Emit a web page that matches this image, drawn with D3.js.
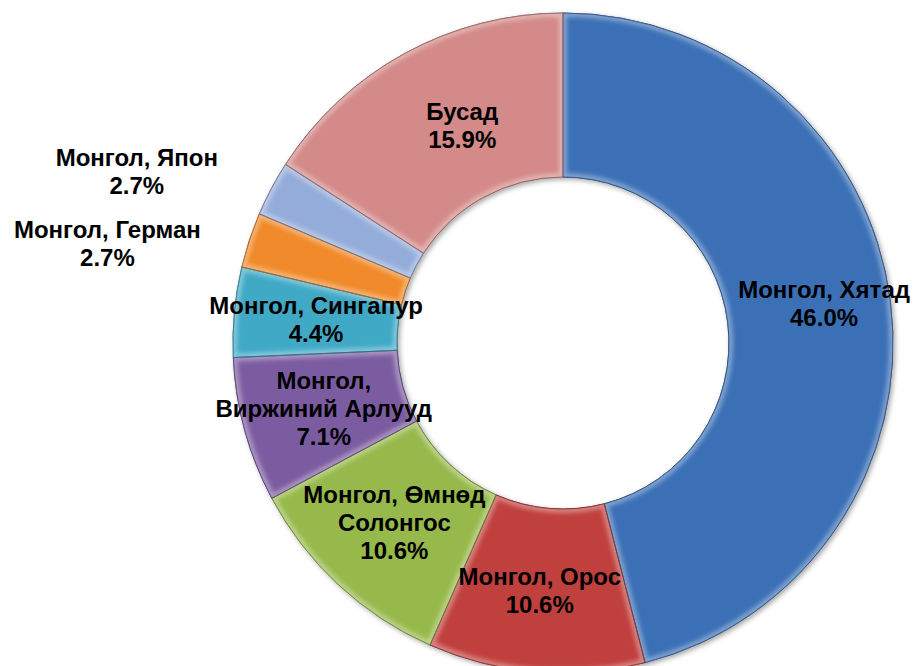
<!DOCTYPE html>
<html>
<head>
<meta charset="utf-8">
<script src="https://cdn.jsdelivr.net/npm/d3@7"></script>
<style>
  body { margin: 0; background: #fff; }
  #chart { width: 915px; height: 666px; overflow: hidden; }
  text { font-family: "Liberation Sans", Arial, sans-serif; font-weight: bold; }
</style>
</head>
<body>
<div id="chart"></div>
<script>
// ---- data ----
const labels = ["Монгол, Хятад", "Монгол, Орос", "Монгол, Өмнөд Солонгос", "Монгол, Виржиний Арлууд",
                "Монгол, Сингапур", "Монгол, Герман", "Монгол, Япон", "Бусад"];
const values = [46.0, 10.6, 10.6, 7.1, 4.4, 2.7, 2.7, 15.9];
// how each label is broken into lines
const labelLines = [
  ["Монгол, Хятад"], ["Монгол, Орос"], ["Монгол, Өмнөд", "Солонгос"], ["Монгол,", "Виржиний Арлууд"],
  ["Монгол, Сингапур"], ["Монгол, Герман"], ["Монгол, Япон"], ["Бусад"]
];
const colors = ["#3b6fb6", "#c0403d", "#97b94b", "#7b5ba1", "#3fa9c6", "#f08a2c", "#94acd9", "#d38a88"];
// manual nudges of the labels away from the arc centroid (dragged in the original)
const labelNudge = [[15, -8], [-3, 0], [0, -2], [0, 0], [0, 0], [-220, -22], [-207, -55], [18, 0]];

const width = 915, height = 666;
const cx = 563, cy = 343;
const outerR = 330, innerR = 166;

const svg = d3.create("svg")
  .attr("width", width)
  .attr("height", height);

const defs = svg.append("defs");
const shadow = defs.append("filter").attr("id", "shadow")
  .attr("x", "-10%").attr("y", "-10%").attr("width", "120%").attr("height", "120%");
shadow.append("feDropShadow")
  .attr("dx", 2).attr("dy", 2).attr("stdDeviation", 2.5)
  .attr("flood-color", "#000").attr("flood-opacity", 0.35);
const blur = defs.append("filter").attr("id", "soft");
blur.append("feGaussianBlur").attr("stdDeviation", 2);

const pie = d3.pie().sort(null).value(d => d.value);
const arc = d3.arc().innerRadius(innerR).outerRadius(outerR);

const data = labels.map((l, i) => ({label: l, value: values[i], i: i}));
const arcs = pie(data);

const g = svg.append("g").attr("transform", `translate(${cx},${cy})`);

// slices
const slices = g.append("g").attr("filter", "url(#shadow)");
slices.selectAll("path")
  .data(arcs)
  .join("path")
  .attr("d", arc)
  .attr("fill", d => colors[d.data.i])
  .attr("stroke", d => d3.color(colors[d.data.i]).darker(0.8))
  .attr("stroke-width", 1);

// bevel: light inner rim clipped to each slice
arcs.forEach(d => {
  defs.append("clipPath").attr("id", "clip" + d.data.i)
    .append("path").attr("d", arc(d));
});
g.append("g").selectAll("path")
  .data(arcs)
  .join("path")
  .attr("d", arc)
  .attr("clip-path", d => `url(#clip${d.data.i})`)
  .attr("fill", "none")
  .attr("stroke", "#fff")
  .attr("stroke-opacity", 0.35)
  .attr("stroke-width", 8)
  .attr("filter", "url(#soft)");
// darker outline on top
g.append("g").selectAll("path")
  .data(arcs)
  .join("path")
  .attr("d", arc)
  .attr("fill", "none")
  .attr("stroke", d => d3.color(colors[d.data.i]).darker(1))
  .attr("stroke-opacity", 0.7)
  .attr("stroke-width", 1);

// labels
const lineH = 28;
const lab = g.append("g").selectAll("text")
  .data(arcs)
  .join("text")
  .attr("text-anchor", "middle")
  .attr("font-size", 24)
  .attr("fill", "#000")
  .attr("transform", d => {
    const c = arc.centroid(d);
    const n = labelNudge[d.data.i];
    return `translate(${c[0] + n[0]},${c[1] + n[1]})`;
  });

lab.each(function(d) {
  const lines = labelLines[d.data.i].concat([d.data.value.toFixed(1) + "%"]);
  const t = d3.select(this);
  const y0 = -(lines.length - 1) * lineH / 2;
  lines.forEach((s, k) => {
    t.append("tspan")
      .attr("x", 0)
      .attr("y", y0 + k * lineH)
      .attr("dy", "0.35em")
      .text(s);
  });
});

document.getElementById("chart").appendChild(svg.node());
</script>
</body>
</html>
